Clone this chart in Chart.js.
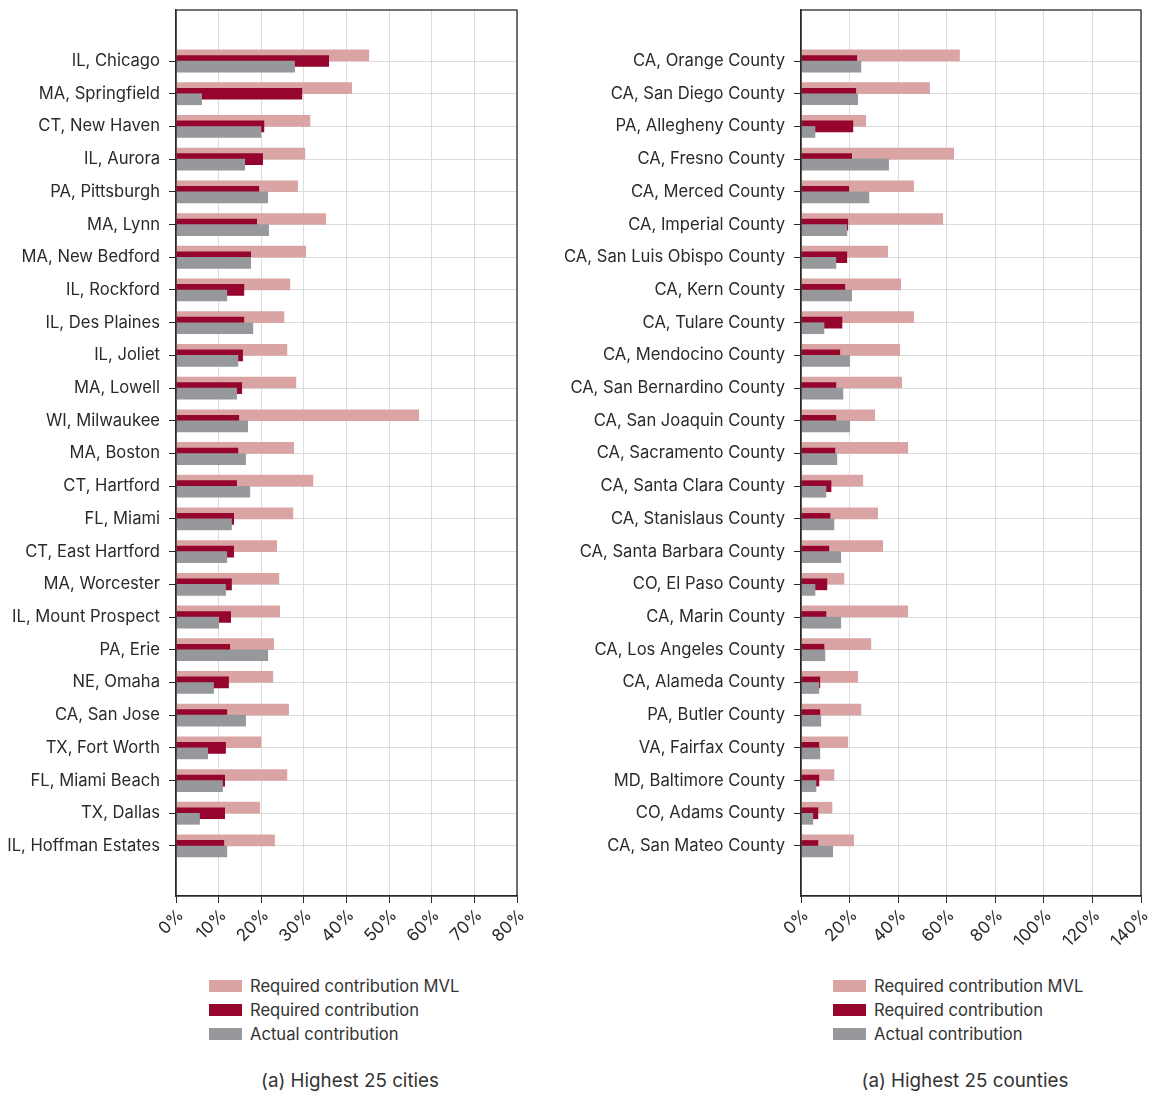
<!DOCTYPE html>
<html>
<head>
<meta charset="utf-8">
<script src="https://cdn.jsdelivr.net/npm/chart.js@4.4.1/dist/chart.umd.min.js"></script>
<style>
  html, body { margin: 0; padding: 0; background: #fff; overflow: hidden; }
  body { width: 1159px; height: 1095px; position: relative; font-family: Inter, "Noto Sans", sans-serif; color: #333; }
  .panel { position: absolute; top: 0; height: 950px; }
  #panelCities { left: 0; width: 560px; }
  #panelCounties { left: 560px; width: 610px; }
  .legend { position: absolute; top: 974px; font-size: 16.6px; }
  .legend .row { height: 24px; line-height: 24px; white-space: nowrap; }
  .legend .box { display: inline-block; width: 33px; height: 12px; vertical-align: middle; margin-right: 8px; position: relative; top: -1px; }
  .caption { position: absolute; top: 1069px; font-size: 18.8px; white-space: nowrap; transform: translateX(-50%); }
</style>
</head>
<body>
<div class="panel" id="panelCities"><canvas id="cities"></canvas></div>
<div class="panel" id="panelCounties"><canvas id="counties"></canvas></div>

<div class="legend" id="legendCities" style="left:209px"></div>
<div class="legend" id="legendCounties" style="left:833px"></div>
<div class="caption" style="left:350px">(a) Highest 25 cities</div>
<div class="caption" style="left:965px">(a) Highest 25 counties</div>

<script>
// ---- Cities ----
const cityNames = [
  'IL, Chicago', 'MA, Springfield', 'CT, New Haven', 'IL, Aurora', 'PA, Pittsburgh',
  'MA, Lynn', 'MA, New Bedford', 'IL, Rockford', 'IL, Des Plaines', 'IL, Joliet',
  'MA, Lowell', 'WI, Milwaukee', 'MA, Boston', 'CT, Hartford', 'FL, Miami',
  'CT, East Hartford', 'MA, Worcester', 'IL, Mount Prospect', 'PA, Erie', 'NE, Omaha',
  'CA, San Jose', 'TX, Fort Worth', 'FL, Miami Beach', 'TX, Dallas', 'IL, Hoffman Estates'
];
const cityMVL = [45.3, 41.3, 31.5, 30.3, 28.6, 35.2, 30.5, 26.8, 25.4, 26.1, 28.2, 57.0, 27.7, 32.2, 27.5,
                 23.7, 24.2, 24.4, 23.0, 22.8, 26.5, 20.0, 26.1, 19.7, 23.2];
const cityRequired = [35.9, 29.6, 20.7, 20.4, 19.5, 19.0, 17.6, 16.0, 16.0, 15.7, 15.5, 14.8, 14.6, 14.3, 13.6,
                      13.6, 13.1, 12.9, 12.7, 12.4, 12.0, 11.7, 11.5, 11.5, 11.3];
const cityActual = [27.9, 6.1, 20.0, 16.2, 21.6, 21.8, 17.6, 12.0, 18.1, 14.6, 14.3, 16.9, 16.4, 17.4, 13.1,
                    12.0, 11.7, 10.1, 21.6, 8.9, 16.4, 7.5, 11.0, 5.6, 12.0];
const cityTicks = [0, 10, 20, 30, 40, 50, 60, 70, 80];

// ---- Counties ----
const countyNames = [
  'CA, Orange County', 'CA, San Diego County', 'PA, Allegheny County', 'CA, Fresno County', 'CA, Merced County',
  'CA, Imperial County', 'CA, San Luis Obispo County', 'CA, Kern County', 'CA, Tulare County', 'CA, Mendocino County',
  'CA, San Bernardino County', 'CA, San Joaquin County', 'CA, Sacramento County', 'CA, Santa Clara County', 'CA, Stanislaus County',
  'CA, Santa Barbara County', 'CO, El Paso County', 'CA, Marin County', 'CA, Los Angeles County', 'CA, Alameda County',
  'PA, Butler County', 'VA, Fairfax County', 'MD, Baltimore County', 'CO, Adams County', 'CA, San Mateo County'
];
const countyMVL = [65.4, 53.1, 26.8, 63.0, 46.5, 58.5, 35.8, 41.2, 46.5, 40.8, 41.6, 30.5, 44.1, 25.6, 31.7,
                   33.8, 17.8, 44.1, 28.9, 23.5, 24.8, 19.4, 13.7, 12.9, 21.8];
const countyRequired = [23.1, 22.7, 21.5, 21.0, 19.8, 19.4, 19.0, 18.2, 17.0, 16.1, 14.5, 14.5, 14.1, 12.5, 12.1,
                        11.6, 10.8, 10.4, 9.6, 7.9, 7.9, 7.5, 7.5, 7.1, 7.1];
const countyActual = [24.8, 23.5, 5.9, 36.2, 28.1, 19.0, 14.5, 21.0, 9.6, 20.2, 17.4, 20.2, 14.9, 10.4, 13.7,
                      16.5, 5.9, 16.5, 10.0, 7.5, 8.3, 7.9, 6.3, 5.0, 13.2];
const countyTicks = [0, 20, 40, 60, 80, 100, 120, 140];

const seriesNames = ['Required contribution MVL', 'Required contribution', 'Actual contribution'];
const seriesColors = ['#d9a4a3', '#95052e', '#97989c'];

const GRID = '#dcdcdc';
const INK = '#2a2a2a';
const FONT = 'Inter, "Noto Sans", sans-serif';

// Bars are painted in dataset order so each later series sits over the previous one.
const paintInDatasetOrder = {
  id: 'paintInDatasetOrder',
  beforeDatasetsDraw(chart) {
    const { ctx, chartArea: a } = chart;
    chart.getSortedVisibleDatasetMetas().forEach(meta => {
      ctx.save();
      ctx.beginPath();
      ctx.rect(a.left, a.top, a.right - a.left, a.bottom - a.top);
      ctx.clip();
      meta.controller.draw();
      ctx.restore();
    });
    return false;
  }
};

// Closed frame around the plotting area.
const plotFrame = {
  id: 'plotFrame',
  afterDraw(chart) {
    const { ctx, chartArea: a } = chart;
    ctx.save();
    ctx.strokeStyle = INK;
    ctx.lineWidth = 1.3;
    ctx.strokeRect(a.left, a.top, a.right - a.left, a.bottom - a.top);
    ctx.restore();
  }
};

function buildChart(id, names, mvl, req, act, ticks, axisWidth, padRight, width) {
  const values = [mvl, req, act];
  const rows = names.map((_, i) => i);

  const canvas = document.getElementById(id);
  canvas.width = width;
  canvas.height = 950;
  canvas.style.width = width + 'px';
  canvas.style.height = '950px';

  return new Chart(canvas, {
    type: 'bar',
    data: {
      datasets: seriesNames.map((name, s) => ({
        label: name,
        data: rows.map(i => ({ x: values[s][i], y: i })),
        backgroundColor: seriesColors[s],
        borderWidth: 0,
        categoryPercentage: 0.51,
        barPercentage: 2.1
      }))
    },
    options: {
      indexAxis: 'y',
      responsive: false,
      animation: false,
      layout: { padding: { top: 10, right: padRight, bottom: 0, left: 0 } },
      plugins: {
        legend: { display: false },
        tooltip: { enabled: false }
      },
      scales: {
        x: {
          type: 'linear',
          min: ticks[0],
          max: ticks[ticks.length - 1],
          afterBuildTicks: s => { s.ticks = ticks.map(v => ({ value: v })); },
          afterFit: s => { s.height = 54; },
          grid: { color: GRID, lineWidth: 1, tickColor: INK, tickLength: 7, drawTicks: true },
          border: { color: INK, width: 1.3 },
          ticks: {
            minRotation: 45, maxRotation: 45,
            labelOffset: 5,
            padding: 2,
            color: INK,
            font: { family: FONT, size: 17 },
            callback: v => v + '%'
          }
        },
        y: {
          type: 'linear',
          reverse: true,
          offset: false,
          // a little more than one row of blank space above the first and below the last row
          min: -1.56,
          max: names.length - 1 + 1.53,
          afterBuildTicks: s => { s.ticks = rows.map(v => ({ value: v })); },
          afterFit: s => { s.width = axisWidth; s.paddingTop = 0; s.paddingBottom = 0; },
          grid: { offset: false, color: GRID, lineWidth: 1, tickColor: INK, tickLength: 7 },
          border: { color: INK, width: 1.3 },
          ticks: {
            autoSkip: false,
            padding: 9,
            color: INK,
            font: { family: FONT, size: 16.6 },
            callback: v => names[v]
          }
        }
      }
    },
    plugins: [paintInDatasetOrder, plotFrame]
  });
}

buildChart('cities', cityNames, cityMVL, cityRequired, cityActual, cityTicks, 176, 43, 560);
buildChart('counties', countyNames, countyMVL, countyRequired, countyActual, countyTicks, 241, 29, 610);

function buildLegend(id) {
  const el = document.getElementById(id);
  seriesNames.forEach((name, i) => {
    const row = document.createElement('div');
    row.className = 'row';
    const box = document.createElement('span');
    box.className = 'box';
    box.style.background = seriesColors[i];
    row.appendChild(box);
    row.appendChild(document.createTextNode(name));
    el.appendChild(row);
  });
}
buildLegend('legendCities');
buildLegend('legendCounties');
</script>
</body>
</html>
